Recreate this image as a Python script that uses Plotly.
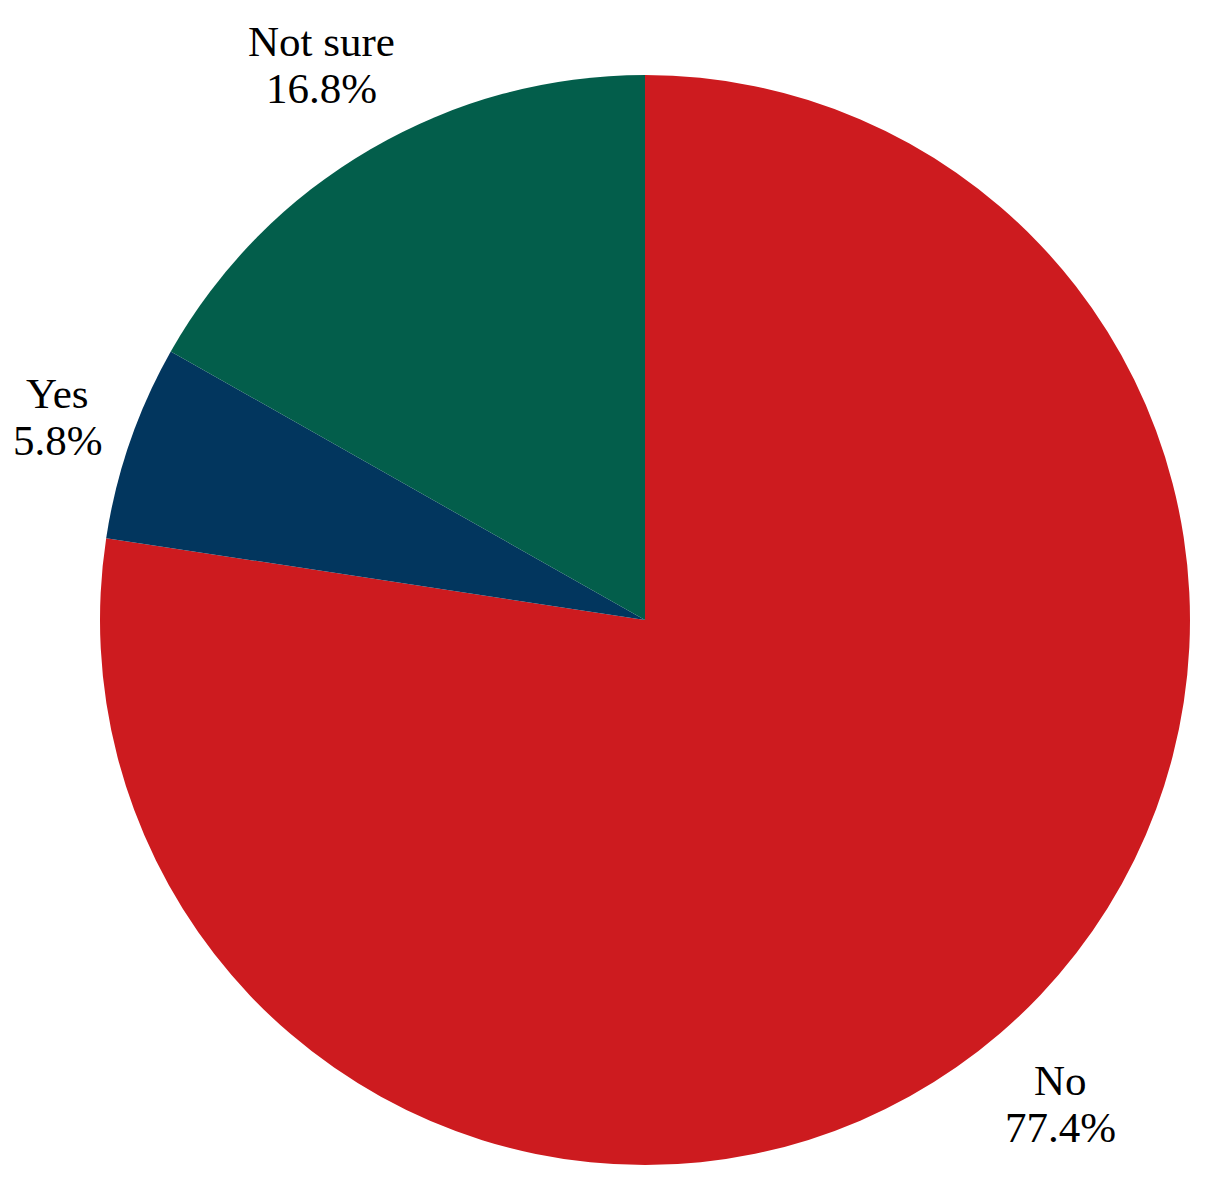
import math
import plotly.graph_objects as go

# survey answers
labels = ["No", "Yes", "Not sure"]
values = [77.4, 5.8, 16.8]
colors = ["#CD1B1F", "#02365E", "#035E4B"]
label_dist = [1.17, 1.14, 1.18]   # label distance from centre, in radii

W, H = 1222, 1203
OFF = 8                      # page body margin pushes the plot 8px right/down
CX, CY, R = 645 - OFF, 620 - OFF, 545   # pie centre and radius in pixels

fig = go.Figure(go.Pie(
    labels=labels,
    values=values,
    sort=False,
    direction="clockwise",
    rotation=0,
    marker=dict(colors=colors, line=dict(width=0)),
    textinfo="none",
    domain=dict(x=[(CX - R) / W, (CX + R) / W],
                y=[1 - (CY + R) / H, 1 - (CY - R) / H]),
    hoverinfo="label+percent",
))

# labels outside each slice, at its mid angle
total = sum(values)
cum = 0
font = dict(family="Liberation Serif", size=43, color="black")
for lab, v, d in zip(labels, values, label_dist):
    mid = (cum + v / 2) / total * 2 * math.pi
    cum += v
    px = CX + d * R * math.sin(mid)
    py = CY - d * R * math.cos(mid)
    for txt, shift in ((lab, 23), (f"{v:.1f}%", -24)):
        fig.add_annotation(x=px / W, y=1 - py / H, xref="paper", yref="paper",
                           text=txt, showarrow=False, font=font,
                           xanchor="center", yanchor="middle", yshift=shift)

fig.update_layout(
    width=W, height=H,
    margin=dict(l=0, r=0, t=0, b=0),
    showlegend=False,
    paper_bgcolor="white",
    plot_bgcolor="white",
)

fig.write_html("out.html")
